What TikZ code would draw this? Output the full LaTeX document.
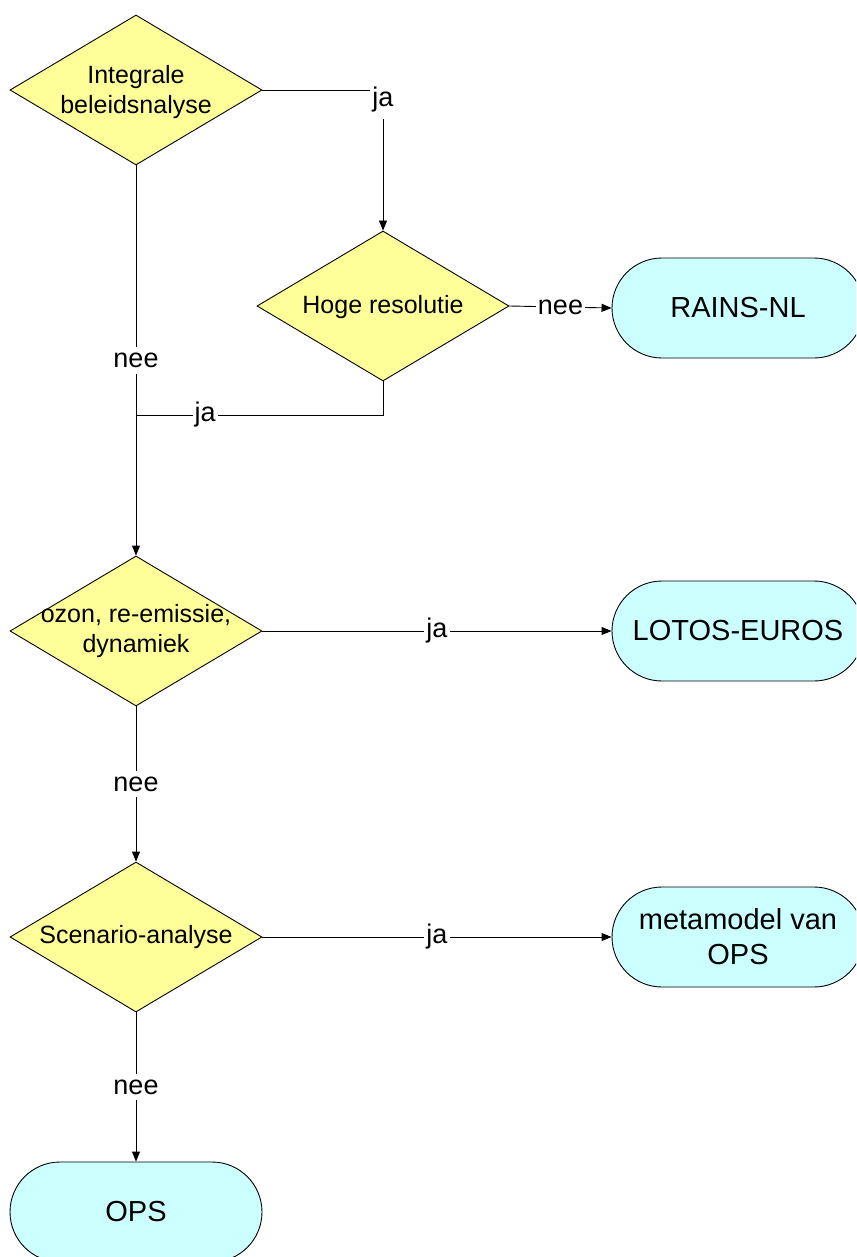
\documentclass[tikz,border=0pt]{standalone}
\usepackage{fontspec}
\setmainfont{Liberation Sans}
\usetikzlibrary{shapes.geometric,arrows.meta}
\definecolor{dyellow}{HTML}{FFFF99}
\definecolor{tcyan}{HTML}{CCFFFF}
\begin{document}
\begin{tikzpicture}[x=1pt,y=-1pt,
  dia/.style={diamond,draw,fill=dyellow,line width=0.9pt,inner sep=0pt,minimum width=252pt,minimum height=150pt,aspect=1.68},
  dtxt/.style={font=\fontsize{25}{30}\selectfont,align=center,inner sep=0pt},
  term/.style={draw,fill=tcyan,line width=0.9pt,rounded corners=50pt,minimum width=252pt,minimum height=100pt,inner sep=0pt,font=\fontsize{29}{35}\selectfont,align=center},
  lbl/.style={fill=white,inner xsep=2pt,inner ysep=6pt,font=\fontsize{27}{32}\selectfont},
  conn/.style={line width=0.9pt},
  arr/.style={conn,-{Triangle[length=10pt,width=8pt]}}]
\clip (0,0) rectangle (856,1257);
\fill[white] (0,0) rectangle (856,1257);
\node[dia, label={[dtxt,yshift=-2pt]center:Integrale\\beleidsnalyse}] (d1) at (136,90) {};
\node[dia, label={[dtxt,yshift=-1pt]center:Hoge resolutie}] (d2) at (383,306) {};
\node[dia, label={[dtxt]center:ozon, re-emissie,\\dynamiek}] (d3) at (136,631) {};
\node[dia, label={[dtxt]center:Scenario-analyse}] (d4) at (136,937) {};
\node[term] (rains) at (738,308) {RAINS-NL};
\node[term] (lotos) at (738,631) {LOTOS-EUROS};
\node[term] (meta) at (738,937) {metamodel van\\OPS};
\node[term] (ops) at (136,1212) {OPS};
\coordinate (m) at (136,415);
\draw[arr] (d1.east) -| (d2.north) node[pos=0.5,lbl,yshift=-10pt]{ja};
\draw[arr] (d2.east) -- (rains.west) node[midway,lbl]{nee};
\draw[conn] (d2.south) |- (m) node[pos=0.86,lbl]{ja};
\draw[arr] (d1.south) -- (d3.north) node[pos=0.5,lbl]{nee};
\draw[arr] (d3.east) -- (lotos.west) node[midway,lbl]{ja};
\draw[arr] (d3.south) -- (d4.north) node[midway,lbl]{nee};
\draw[arr] (d4.east) -- (meta.west) node[midway,lbl]{ja};
\draw[arr] (d4.south) -- (ops.north) node[midway,lbl]{nee};
\end{tikzpicture}
\end{document}
